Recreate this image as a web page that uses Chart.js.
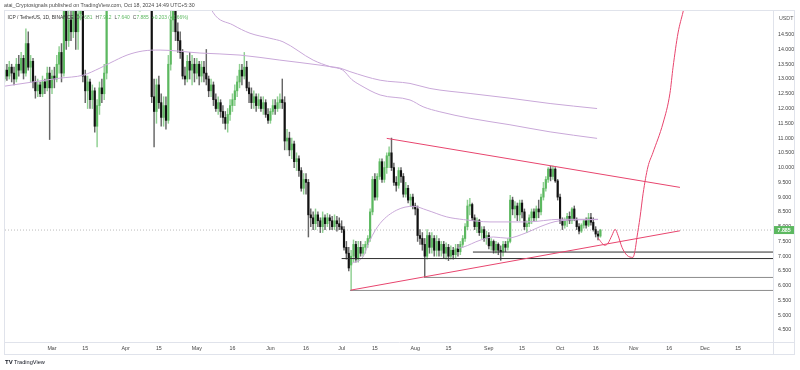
<!DOCTYPE html>
<html lang="en">
<head>
<meta charset="UTF-8">
<title>ICP / TetherUS, 1D</title>
<script src="https://cdn.jsdelivr.net/npm/chart.js@4.4.1/dist/chart.umd.min.js"></script>
<style>
  html, body { margin: 0; padding: 0; background: #fff; }
  #grafico { display: block; }
</style>
</head>
<body>
<canvas id="grafico" width="800" height="370"></canvas>
<script>
// day numbers count from Mar 1 2024 (= 0); first candle is Feb 10
const firstDay = -20;

const opens = [
  13.0,13.3,13.1,13.4,13.2,13.0,13.5,13.3,13.7,13.2,
  14.2,13.4,13.6,12.9,12.6,12.8,12.5,12.9,12.7,13.2,
  12.7,13.1,13.0,13.5,13.9,13.2,15.6,14.3,15.0,14.6,
  15.3,14.6,15.2,15.8,13.1,12.6,12.9,12.3,12.6,11.4,
  12.1,12.7,12.5,13.2,15.9,16.9,18.3,17.9,17.7,17.5,
  17.6,18.5,17.5,16.0,16.2,16.8,16.5,16.8,16.8,17.0,
  16.2,16.6,16.8,12.4,11.9,12.8,12.2,11.7,12.1,11.6,
  13.5,15.0,15.3,14.6,14.3,13.9,13.1,13.0,13.6,13.3,
  13.5,13.2,13.5,13.1,13.4,13.2,13.0,12.6,12.8,12.3,
  12.0,12.2,11.9,11.7,11.5,11.8,12.1,12.3,12.6,12.9,
  13.3,13.1,13.4,12.7,12.5,12.2,12.4,12.1,12.3,12.0,
  12.2,11.8,11.6,11.9,12.1,12.0,12.2,12.3,12.2,10.9,
  11.0,10.6,10.8,10.2,10.3,9.9,9.3,9.6,9.5,8.4,
  8.3,8.1,8.4,8.2,8.0,8.3,8.1,8.3,8.2,8.0,
  8.2,8.1,8.0,7.9,7.3,7.1,6.7,7.0,7.4,6.9,
  7.3,7.1,7.3,7.4,7.6,8.5,9.6,9.0,9.7,10.2,
  9.6,10.0,10.4,10.5,10.0,9.5,9.4,9.9,9.7,9.1,
  9.3,8.9,9.0,8.7,8.6,7.7,7.6,7.4,7.0,7.7,
  7.3,7.6,7.2,7.5,7.2,7.4,7.1,7.3,7.0,7.2,
  7.05,7.25,7.15,7.4,7.6,8.0,8.7,8.75,8.3,8.0,
  8.2,7.8,7.9,7.6,7.7,7.35,7.5,7.2,7.4,7.2,
  7.15,7.4,7.3,7.5,8.9,8.6,8.7,8.4,8.8,8.5,
  8.0,8.1,8.3,8.5,8.3,8.6,8.5,9.0,9.3,9.6,
  9.95,9.7,9.95,9.55,9.0,8.2,8.05,8.2,8.35,8.2,
  8.6,8.25,8.0,7.85,8.05,8.2,8.05,8.3,8.15,7.9,
  7.75,7.681
];
const highs = [
  13.5,13.5,13.6,13.5,13.4,13.7,13.8,13.9,13.8,14.7,
  14.6,13.8,13.7,13.1,13.0,12.9,13.1,13.0,13.4,13.4,
  13.3,13.4,13.8,14.1,14.2,16.2,16.0,15.6,15.5,15.8,
  15.6,15.5,16.4,16.0,13.3,13.1,13.0,12.8,12.7,12.3,
  12.9,13.0,13.5,16.3,17.2,18.6,18.9,18.4,18.0,17.9,
  18.8,18.7,17.6,16.5,17.0,17.0,17.0,17.2,17.3,17.1,
  16.8,16.9,17.0,13.0,13.0,13.1,12.5,12.4,12.4,13.8,
  15.5,15.8,15.6,14.9,14.6,14.0,13.4,13.8,13.9,13.8,
  13.7,13.7,13.6,13.6,13.6,14.0,13.1,13.0,12.9,12.5,
  12.4,12.3,12.1,11.9,12.0,12.3,12.5,12.8,13.1,13.5,
  13.5,13.9,13.6,12.9,12.7,12.6,12.5,12.5,12.4,12.4,
  12.3,12.0,12.0,12.3,12.3,12.4,12.5,13.0,12.4,11.3,
  11.2,11.0,10.9,10.5,10.4,10.0,9.8,9.8,9.6,8.6,
  8.5,8.6,8.5,8.3,8.5,8.4,8.45,8.4,8.35,8.4,
  8.35,8.3,8.2,8.0,7.5,7.3,7.2,7.55,7.5,7.5,
  7.5,7.4,7.5,7.7,8.6,9.7,9.8,9.8,10.3,10.3,
  10.2,10.5,10.7,11.0,10.15,9.7,10.0,10.0,9.8,9.5,
  9.4,9.1,9.1,8.8,8.7,7.9,7.8,7.6,7.9,7.8,
  7.8,7.7,7.7,7.6,7.5,7.5,7.45,7.4,7.35,7.3,
  7.4,7.4,7.5,7.7,8.1,8.9,8.96,8.8,8.4,8.3,
  8.25,8.0,8.0,7.85,7.8,7.6,7.55,7.5,7.45,7.35,
  7.5,7.5,7.6,9.06,9.0,8.85,8.8,8.9,8.9,8.6,
  8.2,8.4,8.6,8.6,8.7,8.9,9.1,9.5,9.7,10.0,
  10.05,10.05,10.0,9.6,9.1,8.3,8.3,8.45,8.5,8.65,
  8.7,8.3,8.1,8.1,8.25,8.3,8.45,8.45,8.3,8.0,
  7.85,7.912
];
const lows = [
  12.9,12.95,13.0,12.9,12.8,12.9,13.1,13.2,13.0,13.1,
  13.3,12.9,12.7,12.35,12.4,12.4,12.4,12.5,12.6,10.95,
  12.5,12.7,12.9,13.2,12.9,13.1,14.0,14.1,14.3,14.4,
  14.0,14.0,15.0,12.9,12.2,12.0,12.0,12.0,11.2,10.7,
  11.8,12.2,12.3,13.0,15.6,16.5,17.6,17.2,17.0,17.1,
  17.4,17.2,15.6,15.6,15.9,16.2,16.3,16.5,16.6,16.0,
  15.9,16.2,12.2,10.7,11.5,12.0,11.4,11.4,11.3,11.5,
  13.3,14.6,14.3,13.9,13.7,13.0,12.8,12.9,13.0,12.8,
  12.9,13.0,12.8,12.9,12.9,12.8,12.4,12.4,12.1,11.9,
  11.8,11.7,11.5,11.3,11.2,11.6,11.9,12.1,12.4,12.7,
  12.8,13.0,12.6,12.2,12.0,12.0,11.9,12.0,11.9,11.8,
  11.7,11.5,11.5,11.8,11.8,11.9,12.0,12.0,10.6,10.6,
  10.4,10.3,10.0,9.9,9.7,9.2,9.1,9.1,7.65,8.0,
  7.9,7.9,8.0,7.8,7.8,7.9,8.0,7.9,7.9,7.9,
  7.85,7.9,7.8,7.2,6.9,6.5,5.84,6.8,6.8,6.8,
  7.0,7.0,7.1,7.3,7.5,8.4,8.9,8.9,9.6,9.5,
  9.5,9.8,10.0,9.9,9.4,9.2,9.3,9.5,9.0,9.0,
  8.8,8.7,8.6,8.4,7.5,7.4,7.2,6.28,6.9,7.1,
  7.1,7.0,7.0,7.0,7.0,6.95,6.9,6.85,6.9,6.9,
  6.95,7.0,7.05,7.3,7.5,7.9,8.4,8.2,7.9,7.8,
  7.7,7.6,7.5,7.4,7.25,7.2,7.1,7.1,7.05,6.86,
  7.0,7.15,7.2,7.45,8.4,8.3,8.2,8.2,8.3,7.9,
  7.8,8.0,8.1,8.2,8.2,8.3,8.4,8.9,9.2,9.5,
  9.55,9.6,9.5,8.9,8.1,7.9,7.95,8.0,8.1,8.1,
  8.2,7.9,7.75,7.8,7.95,7.95,8.0,8.05,7.85,7.65,
  7.55,7.64
];
const closes = [
  13.3,13.1,13.4,13.2,13.0,13.5,13.3,13.7,13.2,14.2,
  13.4,13.6,12.9,12.6,12.8,12.5,12.9,12.7,13.2,12.7,
  13.1,13.0,13.5,13.9,13.2,15.6,14.3,15.0,14.6,15.3,
  14.6,15.2,15.8,13.1,12.6,12.9,12.3,12.6,11.4,12.1,
  12.7,12.5,13.2,15.9,16.9,18.3,17.9,17.7,17.5,17.6,
  18.5,17.5,16.0,16.2,16.8,16.5,16.8,16.8,17.0,16.2,
  16.6,16.8,12.4,11.9,12.8,12.2,11.7,12.1,11.6,13.5,
  15.0,15.3,14.6,14.3,13.9,13.1,13.0,13.6,13.3,13.5,
  13.2,13.5,13.1,13.4,13.2,13.0,12.6,12.8,12.3,12.0,
  12.2,11.9,11.7,11.5,11.8,12.1,12.3,12.6,12.9,13.3,
  13.1,13.4,12.7,12.5,12.2,12.4,12.1,12.3,12.0,12.2,
  11.8,11.6,11.9,12.1,12.0,12.2,12.3,12.2,10.9,11.0,
  10.6,10.8,10.2,10.3,9.9,9.3,9.6,9.5,8.4,8.3,
  8.1,8.4,8.2,8.0,8.3,8.1,8.3,8.2,8.0,8.2,
  8.1,8.0,7.9,7.3,7.1,6.6,7.0,7.4,6.9,7.3,
  7.1,7.3,7.4,7.6,8.5,9.6,9.0,9.7,10.2,9.6,
  10.0,10.4,10.5,10.0,9.5,9.4,9.9,9.7,9.1,9.3,
  8.9,9.0,8.7,8.6,7.7,7.6,7.4,7.0,7.7,7.3,
  7.6,7.2,7.5,7.2,7.4,7.1,7.3,7.0,7.2,7.05,
  7.25,7.15,7.4,7.6,8.0,8.7,8.75,8.3,8.0,8.2,
  7.8,7.9,7.6,7.7,7.35,7.5,7.2,7.4,7.2,7.15,
  7.4,7.3,7.5,8.9,8.6,8.7,8.4,8.8,8.5,8.0,
  8.1,8.3,8.5,8.3,8.6,8.5,9.0,9.3,9.6,9.95,
  9.7,9.95,9.55,9.0,8.2,8.05,8.2,8.35,8.2,8.6,
  8.25,8.0,7.85,8.05,8.2,8.05,8.3,8.15,7.9,7.75,
  7.681,7.885
];

// moving averages (read at a few places along each line)
const maSlowDays = [-19.8, -8, 3.4, 13.1, 20.2, 24.4, 31.6, 38.3, 45.5, 62.3, 79.2, 96, 112.9, 117.1, 121.3, 125.5, 138.2, 150.8, 159.2, 176.1, 192.9, 209.8, 229.6];
const maSlowVals = [12.76, 12.9, 13.03, 13.13, 13.37, 13.54, 13.81, 13.95, 13.98, 13.88, 13.81, 13.64, 13.47, 13.42, 13.37, 13.25, 12.96, 12.85, 12.68, 12.51, 12.35, 12.17, 12.0];
const maFastDays = [62.3, 67.8, 76.2, 83.4, 91.8, 97.3, 110, 117.1, 122.5, 126.3, 129.7, 138.2, 150.8, 156.3, 163.4, 176.1, 192.9, 209.8, 229.6];
const maFastVals = [16.4, 15.26, 14.83, 14.55, 14.38, 14.26, 13.64, 13.42, 13.3, 12.98, 12.8, 12.46, 12.29, 12.06, 11.89, 11.67, 11.45, 11.21, 10.99];
const vwapJulDays = [126.4, 131, 133.9, 138.2, 145.2, 152.2, 157.9, 166.3, 173.3, 184.5, 200, 214, 230];
const vwapJulVals = [6.76, 6.98, 7.54, 8.11, 8.56, 8.69, 8.56, 8.33, 8.24, 8.16, 8.16, 8.25, 8.25];
const vwapAugDays = [171, 173.3, 180.3, 185.9, 191.7, 200, 205.6, 214, 230];
const vwapAugVals = [7.27, 7.31, 7.54, 7.65, 7.61, 7.8, 8.0, 8.2, 8.24];

// drawings
const levelPrices = [7.14, 6.92, 6.28, 5.84];
const levelFrom = [177.3, 122, 157.1, 125.5];
const levelColors = ['#2f2f2f', '#2f2f2f', '#8c8c8c', '#8c8c8c'];
const resistDays = [141, 264.5];
const resistVals = [10.99, 9.33];
const supportDays = [125.8, 264.5];
const supportVals = [5.85, 7.86];
const pathDays = [230, 232.9, 234.2, 235.9, 237.2, 238.4, 240.1, 242.2, 244.7, 245.6, 246.4, 247.7, 249, 251, 253.1, 257.4, 260.3, 261.6, 263.7, 265.8, 267];
const pathVals = [7.61, 7.37, 7.44, 7.71, 7.91, 7.71, 7.30, 7.03, 6.96, 7.20, 7.64, 8.32, 9.13, 10.02, 10.5, 11.51, 12.52, 13.4, 14.56, 15.27, 15.7];

// axes
const xTickDays = [0, 14, 31, 45, 61, 76, 92, 107, 122, 136, 153, 167, 184, 198, 214, 229, 245, 260, 275, 289];
const xTickLabels = ['Mar', '15', 'Apr', '15', 'May', '16', 'Jun', '16', 'Jul', '15', 'Aug', '15', 'Sep', '15', 'Oct', '16', 'Nov', '16', 'Dec', '15'];
const yTicks = [4.5, 5, 5.5, 6, 6.5, 7, 7.5, 8, 8.5, 9, 9.5, 10, 10.5, 11, 11.5, 12, 12.5, 13, 13.5, 14, 14.5];
const xMin = -19.8, xMax = 303.7, yMin = 4.094, yMax = 15.303;

const upColor = '#5cb860', upWick = '#8fd092', downColor = '#111111', downWick = '#666666';
const maColor = '#c9a8d9', pink = '#e8456e';
const font = '"Liberation Sans", Arial, sans-serif';

const last = closes.length - 1;
const lastClose = closes[last];
const isUp = opens.map((o, i) => closes[i] >= o);
const dayOf = i => firstDay + i;

const pts = (xs, ys) => xs.map((x, i) => ({ x: x, y: ys[i] }));
const lineSet = (data, color, order, extra) => Object.assign({
  type: 'line', data: data, borderColor: color, borderWidth: 1,
  pointRadius: 0, fill: false, order: order, cubicInterpolationMode: 'monotone'
}, extra || {});

const datasets = [
  {
    data: lows.map((l, i) => ({ x: dayOf(i), y: [l, highs[i]] })),
    backgroundColor: isUp.map(u => u ? upWick : downWick),
    barThickness: 0.8, grouped: false, order: 6
  },
  {
    data: opens.map((o, i) => ({ x: dayOf(i), y: [o, closes[i]] })),
    backgroundColor: isUp.map(u => u ? upColor : downColor),
    barThickness: 1.5, minBarLength: 1, grouped: false, order: 5
  },
  lineSet(pts(maSlowDays, maSlowVals), maColor, 4),
  lineSet(pts(maFastDays, maFastVals), maColor, 4),
  lineSet(pts(vwapJulDays, vwapJulVals), maColor, 4),
  lineSet(pts(vwapAugDays, vwapAugVals), maColor, 4),
  lineSet(pts([xMin, xMax], [lastClose, lastClose]), 'rgba(120,120,120,0.5)', 3, { borderDash: [1, 2] }),
  lineSet(pts(resistDays, resistVals), pink, 1),
  lineSet(pts(supportDays, supportVals), pink, 1),
  lineSet(pts(pathDays, pathVals), pink, 0)
];
levelPrices.forEach((p, i) => {
  datasets.push(lineSet(pts([levelFrom[i], xMax], [p, p]), levelColors[i], 2));
});

// frame, header texts, last price box
const frame = {
  id: 'frame',
  afterDraw(chart) {
    const c = chart.ctx, a = chart.chartArea;
    c.save();
    c.strokeStyle = '#e0e3eb';
    c.lineWidth = 1;
    c.strokeRect(4.5, 10.5, 790, 344);
    c.beginPath();
    c.moveTo(a.right + 0.5, 10.5); c.lineTo(a.right + 0.5, 354.5);
    c.moveTo(4.5, a.bottom + 0.5); c.lineTo(794.5, a.bottom + 0.5);
    c.stroke();

    c.textBaseline = 'middle';
    c.font = '5.3px ' + font;
    c.fillStyle = '#4a4a4a';
    c.fillText('atai_Cryptosignals published on TradingView.com, Oct 18, 2024 14:49 UTC+5:30', 4, 6);

    // pane legend, laid out one piece after the other
    c.font = '4.9px ' + font;
    let x = 7.5;
    const put = (txt, color, gap) => {
      c.fillStyle = color;
      c.fillText(txt, x, 17.5);
      x += c.measureText(txt).width + gap;
    };
    put('ICP / TetherUS, 1D, BINANCE', '#333', 2.5);
    [['O', opens[last]], ['H', highs[last]], ['L', lows[last]], ['C', closes[last]]].forEach(([k, v]) => {
      put(k, '#555', 0.3);
      put(v.toFixed(3), upColor, 3);
    });
    put('+0.203 (+2.66%)', upColor, 0);

    c.font = '5.3px ' + font;
    c.fillStyle = '#555';
    c.fillText('USDT', a.right + 6, 19);

    const y = chart.scales.y.getPixelForValue(lastClose);
    c.fillStyle = upColor;
    c.fillRect(a.right + 1, y - 4, 20, 8);
    c.fillStyle = '#fff';
    c.font = 'bold 5.3px ' + font;
    c.fillText(lastClose.toFixed(3), a.right + 4.5, y + 0.3);

    c.fillStyle = '#131722';
    c.font = 'bold 6px ' + font;
    c.fillText('TV', 5, 362);
    c.font = '5.6px ' + font;
    c.fillText('TradingView', 14, 362);
    c.restore();
  }
};

new Chart(document.getElementById('grafico'), {
  type: 'bar',
  data: { datasets: datasets },
  options: {
    responsive: false,
    animation: false,
    devicePixelRatio: 1,
    layout: { padding: { left: 5, right: 5, top: 11, bottom: 16 } },
    plugins: { legend: { display: false }, tooltip: { enabled: false } },
    scales: {
      x: {
        type: 'linear', min: xMin, max: xMax, offset: false,
        grid: { display: false, drawTicks: false }, border: { display: false },
        afterBuildTicks: s => { s.ticks = xTickDays.map(v => ({ value: v })); },
        afterFit: s => { s.height = 12; },
        ticks: {
          autoSkip: false, maxRotation: 0, padding: 3, color: '#444',
          font: { size: 5.3, family: font },
          callback: v => xTickLabels[xTickDays.indexOf(v)]
        }
      },
      y: {
        type: 'linear', position: 'right', min: yMin, max: yMax,
        grid: { display: false, drawTicks: false }, border: { display: false },
        afterBuildTicks: s => { s.ticks = yTicks.map(v => ({ value: v })); },
        afterFit: s => { s.width = 22; },
        ticks: {
          autoSkip: false, padding: 5, color: '#444',
          font: { size: 5.3, family: font },
          callback: v => v.toFixed(3)
        }
      }
    }
  },
  plugins: [frame]
});
</script>
</body>
</html>
